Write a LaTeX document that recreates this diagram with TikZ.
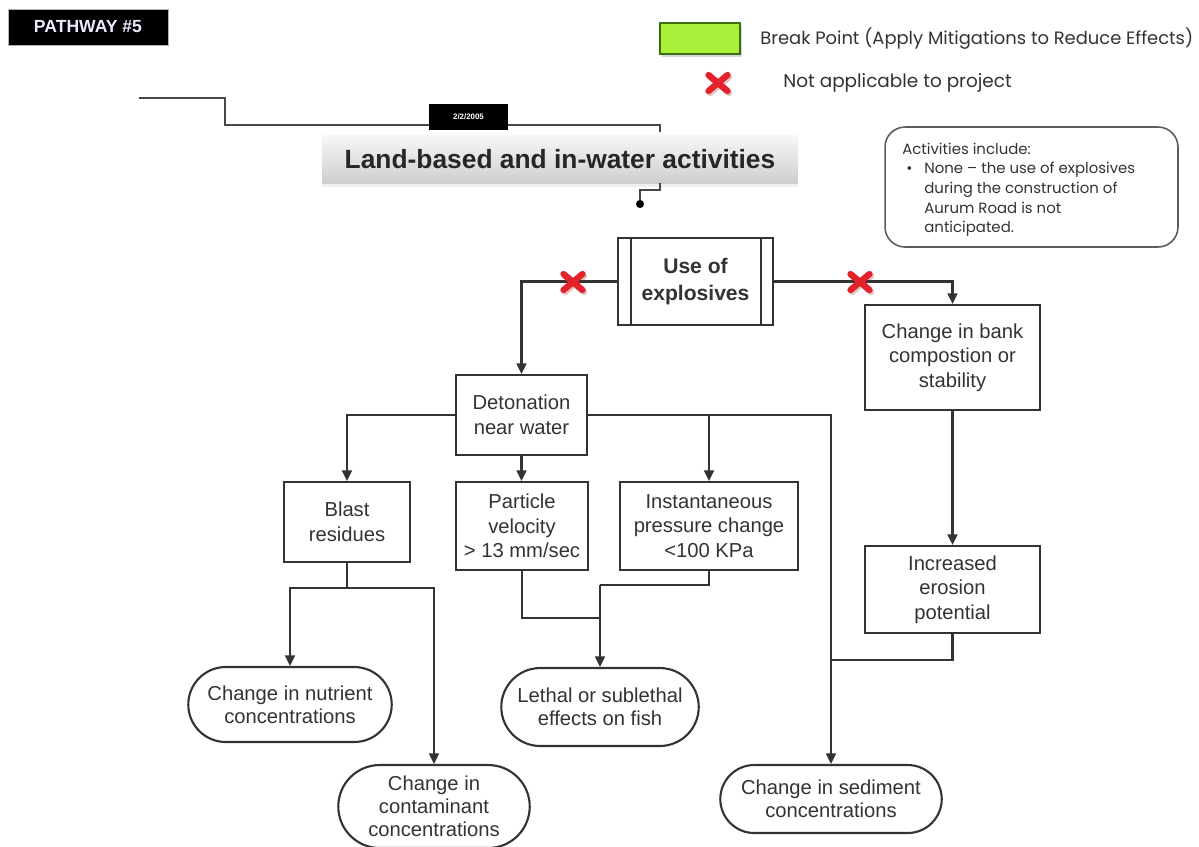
\documentclass[tikz,border=0pt]{standalone}
\usepackage{fontspec}
\setmainfont{Liberation Sans}
\newfontfamily\geofont{Poppins}
\usetikzlibrary{arrows.meta,shapes.misc,shadows}
\definecolor{ink}{HTML}{333333}
\definecolor{xred}{HTML}{E3222C}
\definecolor{lime}{HTML}{A8F03A}
\definecolor{limeedge}{HTML}{3C6E12}
\tikzset{
  boxline/.style={draw=ink, line width=1.2pt},
  procbox/.style={boxline, rectangle, align=center, text=ink, inner sep=2pt,
     font=\fontsize{11.5}{14}\selectfont},
  termbox/.style={boxline, rounded rectangle, align=center, text=ink, inner sep=1pt,
     font=\fontsize{11.5}{13.2}\selectfont},
  conn/.style={draw=ink, line width=1.3pt},
  arr/.style={conn, -{Triangle[length=6pt,width=5.5pt]}},
  redx/.pic={
    \draw[xred!60!black, opacity=0.25, line width=3.6pt, line cap=round] (-8,-6)--(11,10) (-8,10)--(11,-6);
    \draw[xred, line width=3.6pt, line cap=round] (-9.5,-8)--(9.5,8) (-9.5,8)--(9.5,-8);
  }
}
\begin{document}
\begin{tikzpicture}[x=0.02cm,y=-0.02cm]
\useasboundingbox[fill=white] (0,0) rectangle (1199,846);

% header label
\node[fill=black, draw=gray!60, minimum width=3.2cm, minimum height=0.72cm, inner sep=0,
      text=blue!8!white, font=\bfseries\fontsize{10}{12}\selectfont] (pw) at (88,27) {PATHWAY \#5};

% legend
\node[fill=lime, draw=limeedge, line width=1.2pt, minimum width=1.6cm, minimum height=0.62cm,
      drop shadow={opacity=0.3,shadow xshift=1pt,shadow yshift=-1.5pt}] (leg) at (700,38.5) {};
\node[anchor=west, inner sep=0, text=ink, font=\geofont\fontsize{10.2}{12}\selectfont] (legt) at (760,38.5)
   {Break Point (Apply Mitigations to Reduce Effects)};
\coordinate (legx) at (718,83);
\pic at (legx) {redx};
\node[anchor=west, inner sep=0, text=ink, font=\geofont\fontsize{10.5}{12}\selectfont] (legxt) at (783,83)
   {Not applicable to project};

% title
\coordinate (tl0) at (139,98);
\coordinate (tl1) at (660,132);
\draw[draw=ink!90, line width=1.3pt] (tl0) -- (225,98) -- (225,125) -- (660,125) -- (tl1);
\node[fill=black, minimum width=1.58cm, minimum height=0.52cm, inner sep=0, text=white,
      font=\bfseries\fontsize{4.5}{5}\selectfont] (date) at (468.5,117) {2/2/2005};
\node[top color=gray!6, bottom color=gray!38, minimum width=9.52cm, minimum height=0.96cm,
      inner sep=0, text=black!85, font=\bfseries\fontsize{15}{18}\selectfont,
      drop shadow={opacity=0.12,shadow xshift=0pt,shadow yshift=-2pt}] (title) at (560,159)
      {Land-based and in-water activities};
\coordinate (dot) at (640,204);
\draw[draw=ink!90, line width=1.3pt] (660,183) -- (660,190) -- (640,190) -- (dot);
\fill[black] (dot) circle (2.3pt);

% note
\node[draw=ink!80, line width=0.9pt, rounded corners=0.4cm, minimum width=5.86cm,
      minimum height=2.4cm] (note) at (1031.5,187) {};
\node[anchor=north west, inner sep=0, text=ink, font=\geofont\fontsize{8.5}{11.2}\selectfont] (notet) at (902,140)
  {\begin{tabular}{@{}p{0.44cm}@{}l@{}}
   \multicolumn{2}{@{}l@{}}{Activities include:}\\
   \hspace{0.08cm}\textbullet & None – the use of explosives\\
   & during the construction of\\
   & Aurum Road is not\\
   & anticipated.
   \end{tabular}};

% main nodes
\node[procbox, minimum width=3.1cm, minimum height=1.74cm, font=\bfseries\fontsize{12}{15}\selectfont] (expl) at (695.5,281.5) {Use of\\explosives};
\draw[boxline] ([xshift=0.28cm]expl.north west) -- ([xshift=0.28cm]expl.south west);
\draw[boxline] ([xshift=-0.26cm]expl.north east) -- ([xshift=-0.26cm]expl.south east);

\node[procbox, minimum width=3.5cm, minimum height=2.1cm] (bank) at (952.5,357.5) {Change in bank\\compostion or\\stability};
\node[procbox, minimum width=2.62cm, minimum height=1.6cm] (det) at (521.5,415) {Detonation\\near water};
\node[procbox, minimum width=2.52cm, minimum height=1.6cm] (blast) at (347,522) {Blast\\residues};
\node[procbox, minimum width=2.64cm, minimum height=1.76cm] (part) at (522,526) {Particle\\velocity\\> 13 mm/sec};
\node[procbox, minimum width=3.56cm, minimum height=1.76cm] (inst) at (709,526) {Instantaneous\\pressure change\\<100 KPa};
\node[procbox, minimum width=3.5cm, minimum height=1.74cm] (eros) at (952.5,589.5) {Increased\\erosion\\potential};

\node[termbox, minimum width=4.14cm, minimum height=1.5cm] (nutr) at (290,704.5) {Change in nutrient\\concentrations};
\node[termbox, minimum width=4.02cm, minimum height=1.56cm] (leth) at (600,707) {Lethal or sublethal\\effects on fish};
\node[termbox, minimum width=3.9cm, minimum height=1.66cm] (cont) at (434,806.5) {Change in\\contaminant\\concentrations};
\node[termbox, minimum width=4.5cm, minimum height=1.36cm] (sed) at (831,799) {Change in sediment\\concentrations};

% connectors
\draw[arr] (expl.west) -| (det.north);
\draw[arr] (expl.east) -| (bank.north);
\pic at (573,282) {redx};
\pic at (860,282) {redx};

\draw[arr] (det.west) -| (blast.north);
\draw[arr] (det.south) -- (det.south |- part.north);
\draw[arr] (det.east) -| (sed.north);
\coordinate (brI) at (inst.north |- det.east);
\draw[arr] (brI) -- (inst.north);

\coordinate (bJ) at (347,588);
\draw[conn] (blast.south) -- (bJ);
\draw[arr] (bJ) -| (nutr.north);
\draw[arr] (bJ) -| (cont.north);

\coordinate (pJ) at (600,618);
\draw[conn] (part.south) |- (pJ);
\coordinate (iJ) at (600,585);
\draw[conn] (inst.south) |- (iJ);
\draw[arr] (iJ) -- (leth.north);

\draw[arr] (bank.south) -- (eros.north);
\coordinate (eJ) at (831,660);
\draw[conn] (eros.south) |- (eJ);
\end{tikzpicture}
\end{document}
